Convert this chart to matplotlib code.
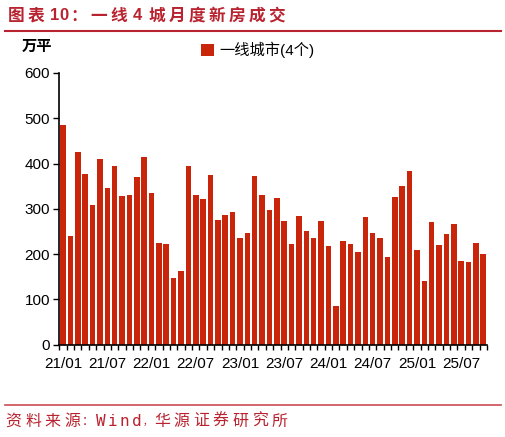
import matplotlib
matplotlib.use("Agg")
import matplotlib.pyplot as plt
from matplotlib.lines import Line2D
import numpy as np

plt.rcParams['font.family'] = ['Liberation Sans', 'Noto Sans CJK SC', 'DejaVu Sans']

months = [f"{y}/{m:02d}" for y in range(21, 26) for m in range(1, 13)][:58]
values = [486, 240, 425, 376, 308, 411, 346, 395, 328, 331, 371, 415,
          336, 225, 223, 147, 162, 395, 330, 322, 374, 276, 286, 292,
          235, 246, 373, 330, 297, 323, 272, 223, 283, 251, 235, 274,
          217, 86, 229, 223, 204, 281, 247, 236, 194, 325, 350, 384,
          210, 140, 270, 219, 245, 266, 184, 182, 225, 200]
series_name = "一线城市(4个)"
unit = "万平"
title = "图表 10：一线 4 城月度新房成交"
source = "资料来源：Wind，华源证券研究所"
yticks = [0, 100, 200, 300, 400, 500, 600]

bar_color = "#C8250A"
red = "#B8232F"
W, H = 506, 437

fig = plt.figure(figsize=(W/100, H/100), dpi=100)
ax = fig.add_axes([59/W, 1-344.6/H, (487.3-59)/W, (344.6-73)/H])

x = np.arange(len(values))
ax.bar(x, values, width=0.75, color=bar_color, label=series_name, zorder=2)
ax.set_xlim(-0.55, len(values) - 0.45)
ax.set_ylim(0, 600)
ax.set_yticks(yticks)
ax.tick_params(axis='y', direction='out', length=4.5, width=1, labelsize=11, pad=2, colors='black')

ax.set_xticks(np.arange(len(values) + 1) - 0.5)
ax.set_xticklabels([])
ax.tick_params(axis='x', which='major', direction='out', length=3.6, width=1)
lab_idx = list(range(0, len(values), 6))
ax.set_xticks(lab_idx, minor=True)
ax.set_xticklabels([months[i] for i in lab_idx], minor=True, fontsize=11)
ax.tick_params(axis='x', which='minor', length=0, pad=9)

for s in ['top', 'right']:
    ax.spines[s].set_visible(False)
for s in ['left', 'bottom']:
    ax.spines[s].set_linewidth(1.2)
    ax.spines[s].set_color('black')

ax.legend(loc='center', bbox_to_anchor=(258/W, 1-50/H), bbox_transform=fig.transFigure,
          frameon=False, handlelength=0.85, handleheight=0.85, handletextpad=0.35,
          prop={'family': ['Liberation Sans', 'Noto Sans CJK SC'], 'size': 11})

fig.text(22/W, 1-46/H, unit, fontsize=11, family=['Noto Sans CJK SC'], fontweight='bold',
         va='center', ha='left')


def is_wide(ch):
    return ord(ch) > 0x2E80


def spaced(text, x0, yc, wide_pitch, narrow_pitch, space_pitch, special, size, weight, color,
           narrow_family):
    # special: char -> (slot width, font size)
    xpos = x0
    for ch in text:
        fs = size
        if ch in special:
            w, fs = special[ch]
        elif ch == ' ':
            w = space_pitch
        elif is_wide(ch):
            w = wide_pitch
        else:
            w = narrow_pitch
        if ch != ' ':
            fam = ['Noto Sans CJK SC'] if is_wide(ch) else narrow_family
            fig.text((xpos + w / 2) / W, 1 - yc / H, ch, fontsize=fs, family=fam,
                     fontweight=weight, color=color, ha='center', va='center')
        xpos += w


spaced(title, 6, 15.5, 20, 9.5, 4, {}, 12, 'bold', red, ['Liberation Sans', 'Noto Sans CJK SC'])
fig.add_artist(Line2D([5/W, 501/W], [1-30.5/H, 1-30.5/H], transform=fig.transFigure,
                      color=red, linewidth=1.5))
fig.add_artist(Line2D([5/W, 501/W], [1-404.5/H, 1-404.5/H], transform=fig.transFigure,
                      color="#CC4A55", linewidth=1.2))
spaced(source, 4, 421.5, 19.5, 12, 6, {'：': (12.5, 9), '，': (10, 7)}, 11.5, 'normal', red,
       ['DejaVu Sans Mono', 'Noto Sans CJK SC'])

fig.savefig("out.png", dpi=100)
